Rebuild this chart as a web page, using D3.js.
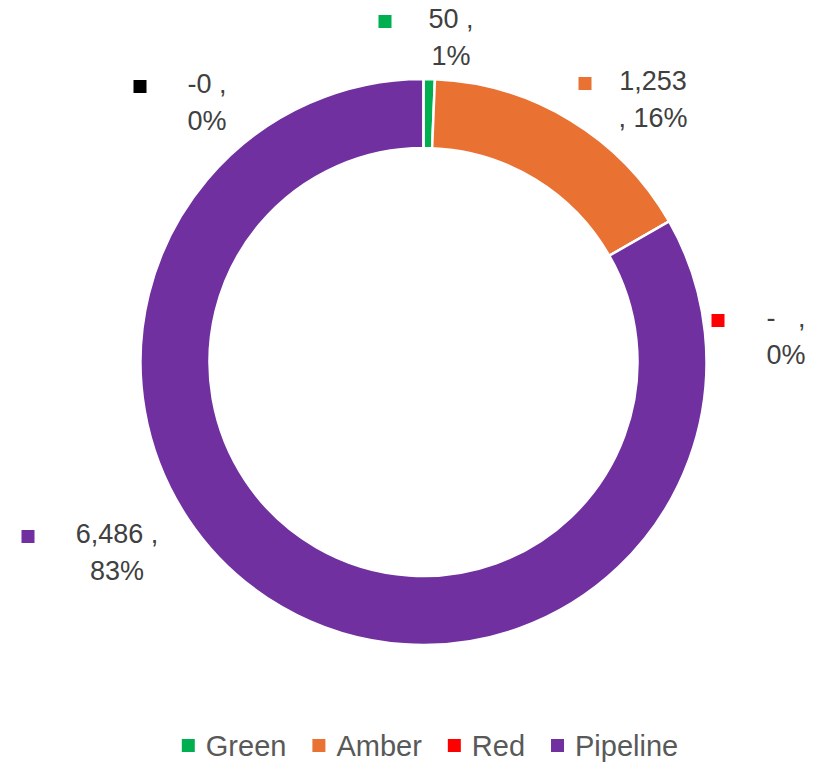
<!DOCTYPE html>
<html>
<head>
<meta charset="utf-8">
<script src="https://cdn.jsdelivr.net/npm/d3@7"></script>
<style>
  html, body { margin: 0; padding: 0; background: #fff; }
  svg { display: block; font-family: "Liberation Sans", Arial, sans-serif; }
</style>
</head>
<body>
<svg id="chart" width="820" height="764"></svg>
<script>
// data (the last, unnamed slice is a zero "-0" entry that has no legend item)
const categories = ["Green", "Amber", "Red", "Pipeline", ""];
const values = [50, 1253, 0, 6486, -0.001];
const valueText = ["50 ,", "1,253", "-   ,", "6,486 ,", "-0 ,"];
const pctText = ["1%", ", 16%", "0%", "83%", "0%"];
const colors = ["#00B050", "#E97132", "#FF0000", "#7030A0", "#000000"];

// where each data label sits (text centre x, first baseline y, marker centre x)
const labelLayout = [
  { x: 451, y: 28, mx: 385 },
  { x: 653, y: 90, mx: 585 },
  { x: 786, y: 327, mx: 718 },
  { x: 117, y: 543, mx: 28 },
  { x: 207, y: 93, mx: 140 }
];

const cx = 423.5, cy = 362;
const outerR = 283, innerR = 214;

const svg = d3.select("#chart");

const pie = d3.pie()
  .sort(null)
  .value(d => Math.max(0, d.v))
  .startAngle(0)
  .endAngle(2 * Math.PI);

const rows = categories.map((c, i) => ({ c: c, v: values[i], i: i }));
const arcs = pie(rows);

const arc = d3.arc().innerRadius(innerR).outerRadius(outerR);

const g = svg.append("g").attr("transform", `translate(${cx},${cy})`);

g.selectAll("path")
  .data(arcs)
  .join("path")
  .attr("d", arc)
  .attr("fill", d => colors[d.data.i])
  .attr("stroke", "#fff")
  .attr("stroke-width", 2.5);

// data labels
const lab = svg.append("g").selectAll("g")
  .data(rows)
  .join("g");

lab.append("rect")
  .attr("x", d => labelLayout[d.i].mx - 6.5)
  .attr("y", d => labelLayout[d.i].y - 13)
  .attr("width", 13)
  .attr("height", 13)
  .attr("fill", d => colors[d.i]);

lab.append("text")
  .attr("x", d => labelLayout[d.i].x)
  .attr("y", d => labelLayout[d.i].y)
  .attr("text-anchor", "middle")
  .attr("font-size", 27)
  .attr("fill", "#404040")
  .style("white-space", "pre")
  .text(d => valueText[d.i]);

lab.append("text")
  .attr("x", d => labelLayout[d.i].x)
  .attr("y", d => labelLayout[d.i].y + 37)
  .attr("text-anchor", "middle")
  .attr("font-size", 27)
  .attr("fill", "#404040")
  .text(d => pctText[d.i]);

// legend
const legendItems = rows.filter(d => d.c !== "");
const leg = svg.append("g");
let lx = 0;
legendItems.forEach(d => {
  const item = leg.append("g").attr("transform", `translate(${lx},0)`);
  item.append("rect")
    .attr("x", 0).attr("y", -7)
    .attr("width", 13).attr("height", 13)
    .attr("fill", colors[d.i]);
  const t = item.append("text")
    .attr("x", 24).attr("y", 10)
    .attr("font-size", 29)
    .attr("fill", "#595959")
    .text(d.c);
  lx += 24 + t.node().getComputedTextLength() + 26;
});
const legW = lx - 26;
leg.attr("transform", `translate(${430 - legW / 2},746)`);
</script>
</body>
</html>
